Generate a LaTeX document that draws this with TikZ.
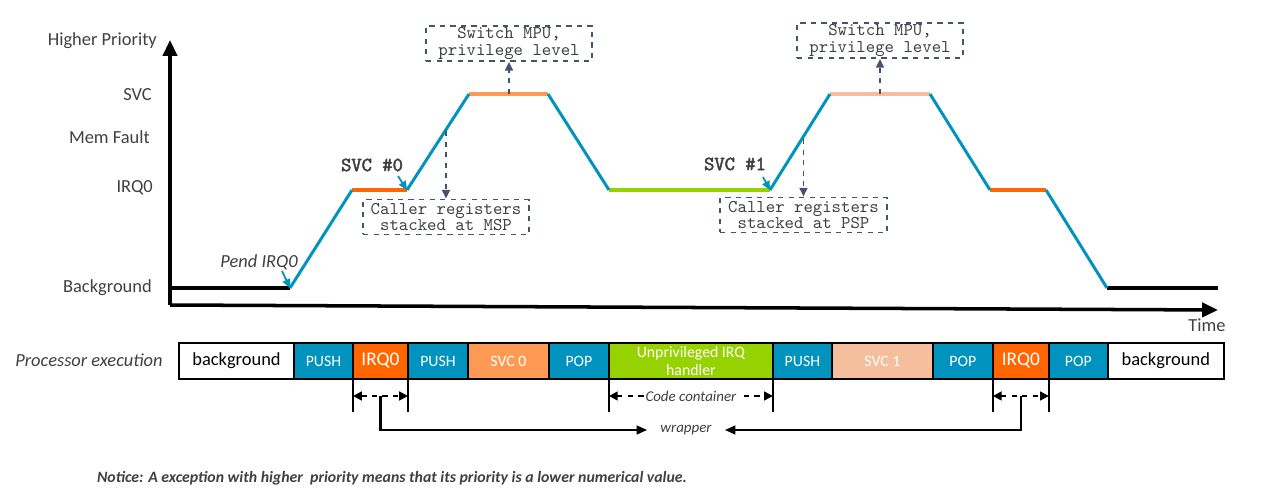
\documentclass[tikz,border=0pt]{standalone}
\usepackage{fontspec}
\setmainfont{Carlito}
\newfontfamily\svcfont[AutoFakeBold=2.5]{Latin Modern Mono}
\usetikzlibrary{arrows.meta,positioning}
\definecolor{curveblue}{HTML}{0093BE}
\definecolor{irqorange}{HTML}{FF6600}
\definecolor{svcorange}{HTML}{FF9A55}
\definecolor{svcpeach}{HTML}{F5BE9C}
\definecolor{handlergreen}{HTML}{96D200}
\definecolor{notegray}{HTML}{44546A}
\definecolor{textgray}{HTML}{404040}

\begin{document}
\begin{tikzpicture}[x=0.02cm, y=-0.02cm, font=\fontsize{10.5}{12}\selectfont, node distance=0pt,
	lvl/.style={anchor=east, text=textgray},
	slope/.style={line width=1.7pt, color=curveblue},
	flat/.style={line width=2.2pt},
	axis/.style={line width=2pt, -{Triangle[length=9pt,width=8pt]}},
	note/.style={draw=notegray, dashed, line width=1pt, font=\ttfamily\fontsize{10.2}{9.6}\selectfont, text=textgray, align=center, inner sep=0pt, minimum height=0.7cm},
	notearrow/.style={draw=notegray, dashed, line width=1pt, -{Triangle[length=5pt,width=4.5pt]}},
	pointer/.style={curveblue, line width=1pt, -{Triangle[length=5pt,width=4.5pt]}},
	svclbl/.style={text=textgray, font=\svcfont\bfseries\fontsize{11.4}{12}\selectfont},
	cell/.style={draw, line width=1.2pt, minimum height=0.72cm, inner sep=0pt, outer sep=0pt, text=white, font=\fontsize{9}{10.5}\selectfont, align=center},
	span/.style={dashed, line width=1.2pt, {Triangle[length=5pt,width=5pt]}-{Triangle[length=5pt,width=5pt]}},
	tick/.style={line width=1.2pt},
	wrap/.style={line width=1.2pt, -{Triangle[length=6pt,width=5pt]}}]
	\useasboundingbox (0,0) rectangle (1280,503);
	% priority axis
	\coordinate (orig) at (170,305);
	\draw[axis] (orig) -- (170,40);
	\draw[axis] (orig) -- (1218,310);
	\node[lvl] (hp) at (163,41) {Higher Priority};
	\node[lvl] (lsvc) at (158,95) {SVC};
	\node[lvl] (lmem) at (156,137) {Mem Fault};
	\node[lvl] (lirq) at (159,188) {IRQ0};
	\node[lvl] (lbg) at (158,288) {Background};
	\node[text=textgray] (time) at (1207,325) {Time};
	% priority curve
	\coordinate (p0) at (170,288);
	\coordinate (p1) at (290,288);
	\coordinate (p2) at (352,190);
	\coordinate (p3) at (407,190);
	\coordinate (p4) at (469,94);
	\coordinate (p5) at (548,94);
	\coordinate (p6) at (609,190);
	\coordinate (p7) at (770,190);
	\coordinate (p8) at (830,94);
	\coordinate (p9) at (930,94);
	\coordinate (p10) at (990,190);
	\coordinate (p11) at (1046,190);
	\coordinate (p12) at (1107,288);
	\coordinate (p13) at (1218,288);
	\draw[flat] (p0) -- (p1);
	\draw[flat, irqorange] (p2) -- (p3);
	\draw[flat, svcorange] (p4) -- (p5);
	\draw[flat, handlergreen] (p6) -- (p7);
	\draw[flat, svcpeach] (p8) -- (p9);
	\draw[flat, irqorange] (p10) -- (p11);
	\draw[flat] (p12) -- (p13);
	\draw[slope] (p1) -- (p2);
	\draw[slope] (p3) -- (p4);
	\draw[slope] (p5) -- (p6);
	\draw[slope] (p7) -- (p8);
	\draw[slope] (p9) -- (p10);
	\draw[slope] (p11) -- (p12);
	% callouts
	\node[text=textgray, font=\itshape\fontsize{10.5}{12}\selectfont] (pend) at (259,262) {Pend IRQ0};
	\coordinate (pendtip) at (282,271);
	\draw[pointer] (pendtip) -- (p1);
	\node[svclbl] (svc0lbl) at (372,165) {SVC \#0};
	\coordinate (svc0tip) at (398,176);
	\draw[pointer] (svc0tip) -- (p3);
	\node[svclbl] (svc1lbl) at (735,164) {SVC \#1};
	\coordinate (svc1tip) at (763,177);
	\draw[pointer] (svc1tip) -- (p7);
	\node[note, minimum width=3.32cm] (sw1) at (509,43.5) {Switch MPU,\\privilege level};
	\node[note, minimum width=3.32cm] (sw2) at (880,40.5) {Switch MPU,\\privilege level};
	\node[note, minimum width=3.32cm] (cr1) at (446,217) {Caller registers\\stacked at MSP};
	\node[note, minimum width=3.34cm] (cr2) at (803.5,215) {Caller registers\\stacked at PSP};
	\coordinate (m1) at (509,94);
	\coordinate (m2) at (880,94);
	\coordinate (s1) at (446,131);
	\coordinate (s2) at (803.5,139);
	\draw[notearrow] (m1) -- (sw1.south);
	\draw[notearrow] (m2) -- (sw2.south);
	\draw[notearrow] (s1) -- (cr1.north);
	\draw[notearrow] (s2) -- (cr2.north);
	% execution bar
	\node[text=textgray, font=\itshape\fontsize{10.5}{12}\selectfont] (proc) at (89,360) {Processor execution};
	\node[cell, fill=white, text=black, minimum width=2.30cm, font=\fontsize{10.5}{12}\selectfont] (bg1) at (236.5,361) {background};
	\node[cell, fill=curveblue, minimum width=1.18cm, right=of bg1] (push1) {PUSH};
	\node[cell, fill=irqorange, minimum width=1.10cm, right=of push1, font=\fontsize{11}{12}\selectfont] (irq1) {IRQ0};
	\node[cell, fill=curveblue, minimum width=1.20cm, right=of irq1] (push2) {PUSH};
	\node[cell, fill=svcorange, minimum width=1.62cm, right=of push2] (svc0) {SVC 0};
	\node[cell, fill=curveblue, minimum width=1.20cm, right=of svc0] (pop1) {POP};
	\node[cell, fill=handlergreen, minimum width=3.28cm, right=of pop1] (handler) {Unprivileged IRQ\\handler};
	\node[cell, fill=curveblue, minimum width=1.18cm, right=of handler] (push3) {PUSH};
	\node[cell, fill=svcpeach, minimum width=2.02cm, right=of push3] (svc1) {SVC 1};
	\node[cell, fill=curveblue, minimum width=1.20cm, right=of svc1] (pop2) {POP};
	\node[cell, fill=irqorange, minimum width=1.12cm, right=of pop2, font=\fontsize{11}{12}\selectfont] (irq2) {IRQ0};
	\node[cell, fill=curveblue, minimum width=1.18cm, right=of irq2] (pop3) {POP};
	\node[cell, fill=white, text=black, minimum width=2.32cm, right=of pop3, font=\fontsize{10.5}{12}\selectfont] (bg2) {background};
	% spans below the bar
	\draw[tick] (irq1.south west) -- ++(0,33);
	\draw[tick] (irq1.south east) -- ++(0,33);
	\draw[tick] (handler.south west) -- ++(0,33);
	\draw[tick] (handler.south east) -- ++(0,33);
	\draw[tick] (irq2.south west) -- ++(0,33);
	\draw[tick] (irq2.south east) -- ++(0,33);
	\draw[span] ([yshift=-0.34cm]irq1.south west) -- ([yshift=-0.34cm]irq1.south east);
	\draw[span] ([yshift=-0.34cm]handler.south west) -- ([yshift=-0.34cm]handler.south east);
	\draw[span] ([yshift=-0.34cm]irq2.south west) -- ([yshift=-0.34cm]irq2.south east);
	\node[fill=white, inner sep=1pt, text=textgray, font=\itshape\fontsize{8.5}{10}\selectfont] (code) at ([yshift=-0.34cm]handler.south) {Code container};
	\node[text=textgray, inner xsep=0.26cm, font=\itshape\fontsize{8.5}{10}\selectfont] (wrapper) at (686,430) {wrapper};
	\draw[wrap] ([yshift=-0.34cm]irq1.south) |- (wrapper.west);
	\draw[wrap] ([yshift=-0.34cm]irq2.south) |- (wrapper.east);
	\node[text=textgray, font=\bfseries\itshape\fontsize{9}{10}\selectfont] (notice) at (392,478) {Notice: A exception with higher\ \ priority means that its priority is a lower numerical value.};
\end{tikzpicture}
\end{document}
